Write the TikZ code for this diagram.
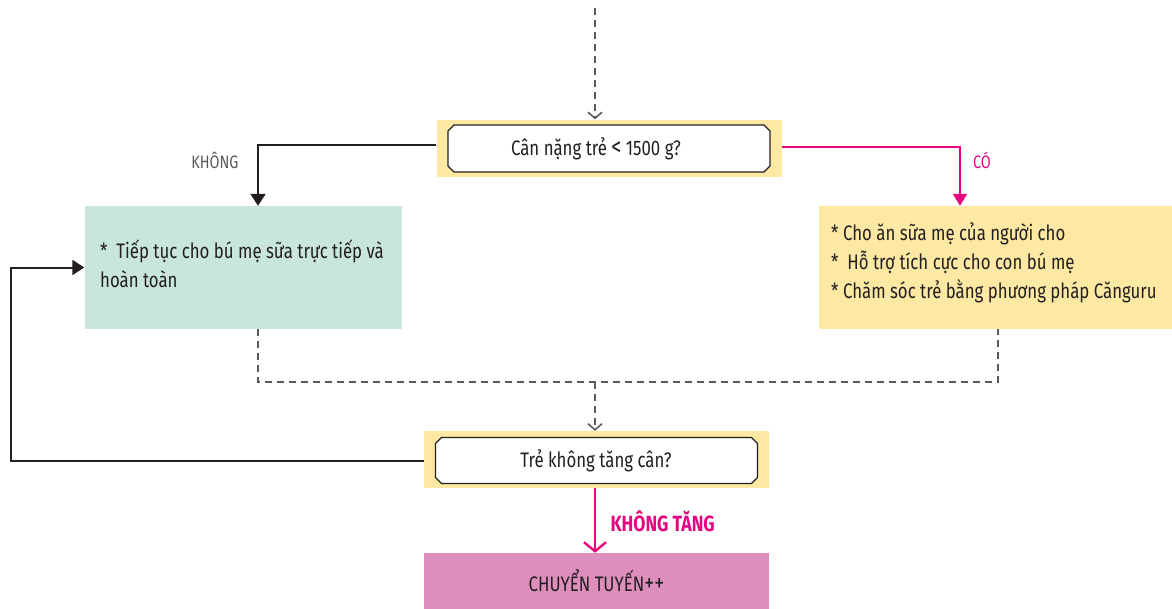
\documentclass[tikz,border=0pt]{standalone}
\usepackage{fontspec}
\setmainfont[FakeStretch=0.8]{Fira Sans}
\usetikzlibrary{arrows.meta}
\definecolor{qyellow}{HTML}{FDE9A4}
\definecolor{bgreen}{HTML}{C9E6DD}
\definecolor{bpink}{HTML}{DE8EBC}
\definecolor{mag}{HTML}{E5067F}
\definecolor{ink}{HTML}{231F20}
\definecolor{dgray}{HTML}{5A5A5A}
\newcommand{\bigsym}[1]{{\fontsize{25}{29}\selectfont #1}}
\tikzset{
  every node/.style={font=\fontsize{21}{29}\selectfont, text=ink},
  qouter/.style={fill=qyellow, draw=none, minimum width=345pt, minimum height=57pt, inner sep=0pt},
  chamf/.style={draw=ink, line width=1.2pt, fill=white},
  abox/.style={draw=none, minimum height=123pt, inner sep=0pt},
  dashline/.style={draw=dgray, dashed, dash pattern=on 7pt off 5pt, line width=1.3pt},
  dasharrow/.style={dashline, -{Straight Barb[length=6pt,width=14pt,line width=1.6pt]}},
  blackarrow/.style={draw=ink, line width=2pt, -{Triangle[length=12pt,width=15pt]}},
  magline/.style={draw=mag, line width=2pt},
}
\begin{document}
\begin{tikzpicture}[x=1pt,y=-1pt]
\useasboundingbox (0,0) rectangle (1172,608);
% top question
\node[qouter] (q1o) at (609,148) {};
\draw[chamf] ([shift={(-155,-23)}]q1o.center) -- ([shift={(155,-23)}]q1o.center) -- ([shift={(161,-17)}]q1o.center) -- ([shift={(161,18)}]q1o.center) -- ([shift={(155,24)}]q1o.center) -- ([shift={(-155,24)}]q1o.center) -- ([shift={(-161,18)}]q1o.center) -- ([shift={(-161,-17)}]q1o.center) -- cycle;
\node (q1t) at (596,149) {Cân nặng trẻ \bigsym{<} 1500 g?};
\coordinate (topin) at (595,8);
\draw[dasharrow] (topin) -- (q1o.north -| topin);
% left box
\node[abox, fill=bgreen, minimum width=317pt] (lbox) at (243,267.5) {};
\node[anchor=north west, align=left, inner sep=0pt] (ltxt) at (100,240) {*\ \ Tiếp tục cho bú mẹ sữa trực tiếp và\\hoàn toàn};
% right box
\node[abox, fill=qyellow, minimum width=353pt] (rbox) at (995.5,267.5) {};
\node[anchor=north west, align=left, inner sep=0pt] (rtxt) at (831,223) {* Cho ăn sữa mẹ của người cho\\*\ \ Hỗ trợ tích cực cho con bú mẹ\\* Chăm sóc trẻ bằng phương pháp Cănguru};
% KHONG / CO
\coordinate (kx) at (258,0);
\coordinate (cx) at (960,0);
\draw[blackarrow] (q1o.west |- 0,145) -| (lbox.north -| kx);
\node[text=dgray, font=\fontsize{18}{20}\selectfont] (khong) at (215,160) {KHÔNG};
\draw[magline, -{Triangle[length=12pt,width=14pt]}] (q1o.east |- 0,147) -| (rbox.north -| cx);
\node[text=mag, font=\fontsize{18}{20}\selectfont] (co) at (982,160) {CÓ};
% bottom question
\node[qouter] (q2o) at (596.5,459.5) {};
\draw[chamf] ([shift={(-155,-22)}]q2o.center) -- ([shift={(155,-22)}]q2o.center) -- ([shift={(161,-16)}]q2o.center) -- ([shift={(161,18)}]q2o.center) -- ([shift={(155,24)}]q2o.center) -- ([shift={(-155,24)}]q2o.center) -- ([shift={(-161,18)}]q2o.center) -- ([shift={(-161,-16)}]q2o.center) -- cycle;
\node (q2t) at (596,461) {Trẻ không tăng cân?};
% dashed merge
\coordinate (dx) at (998,0);
\coordinate (mid) at (595,382);
\draw[dashline] (lbox.south -| kx) |- (mid) -| (rbox.south -| dx);
\draw[dasharrow] (mid) -- (q2o.north -| mid);
% feedback
\coordinate (fb) at (11,461);
\draw[blackarrow] (q2o.west |- fb) -- (fb) |- (lbox.west);
% bottom
\node[draw=none, fill=bpink, minimum width=345pt, minimum height=56pt, inner sep=0pt] (tr) at (596.5,581) {CHUYỂN TUYẾN\bigsym{++}};
\draw[magline, -{Straight Barb[length=9pt,width=22pt,line width=2.4pt]}] (q2o.south -| mid) -- (tr.north -| mid);
\node[text=mag, font=\bfseries\fontsize{22}{24}\selectfont, anchor=west] (kt) at (607,521) {KHÔNG TĂNG};
\end{tikzpicture}
\end{document}
